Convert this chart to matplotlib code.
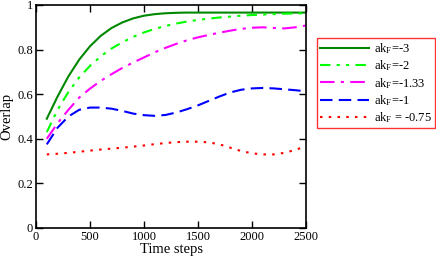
import matplotlib
matplotlib.use("Agg")
import matplotlib.pyplot as plt
from matplotlib.ticker import FuncFormatter

plt.rcParams['font.family'] = ['Liberation Serif', 'DejaVu Serif']
plt.rcParams['mathtext.fontset'] = 'custom'
plt.rcParams['mathtext.rm'] = 'Liberation Serif'
plt.rcParams['mathtext.it'] = 'Liberation Serif'

# Zeitachse
t = [100, 200, 300, 400, 500, 600, 700, 800, 900, 1000, 1100, 1200, 1300,
     1400, 1500, 1600, 1700, 1800, 1900, 2000, 2100, 2200, 2300, 2400, 2500]

ov_m3 = [0.49, 0.59, 0.68, 0.755, 0.815, 0.862, 0.897, 0.922, 0.940, 0.952,
         0.959, 0.963, 0.965, 0.966, 0.966, 0.966, 0.966, 0.966, 0.966, 0.966,
         0.966, 0.966, 0.966, 0.966, 0.966]
ov_m2 = [0.43, 0.53, 0.61, 0.675, 0.727, 0.77, 0.805, 0.833, 0.857, 0.877,
         0.893, 0.906, 0.917, 0.926, 0.933, 0.939, 0.944, 0.948, 0.952, 0.955,
         0.957, 0.959, 0.961, 0.962, 0.963]
ov_m133 = [0.40, 0.47, 0.53, 0.585, 0.625, 0.66, 0.69, 0.718, 0.742, 0.765,
           0.788, 0.808, 0.826, 0.842, 0.855, 0.866, 0.876, 0.885, 0.893, 0.898,
           0.900, 0.897, 0.895, 0.900, 0.908]
ov_m1 = [0.375, 0.45, 0.50, 0.53, 0.54, 0.54, 0.535, 0.525, 0.513, 0.506,
         0.503, 0.507, 0.518, 0.533, 0.55, 0.57, 0.59, 0.608, 0.62, 0.626,
         0.628, 0.626, 0.622, 0.618, 0.613]
ov_m075 = [0.330, 0.333, 0.337, 0.342, 0.347, 0.352, 0.356, 0.360, 0.365, 0.370,
           0.376, 0.381, 0.385, 0.387, 0.387, 0.384, 0.375, 0.360, 0.345, 0.335,
           0.330, 0.330, 0.337, 0.350, 0.367]

labels = [r'ak$_\mathrm{F}$=-3', r'ak$_\mathrm{F}$=-2', r'ak$_\mathrm{F}$=-1.33',
          r'ak$_\mathrm{F}$=-1', r'ak$_\mathrm{F}$ = -0.75']

fig = plt.figure(figsize=(4.36, 2.57), dpi=100)
ax = fig.add_axes([36 / 436, 29 / 257, 270 / 436, 223 / 257])

ax.plot(t, ov_m3, color='#008800', lw=1.5, ls='-', label=labels[0])
ax.plot(t, ov_m2, color='#00ff00', lw=1.5, ls=(0, (5, 3, 1.5, 3, 1.5, 3)), label=labels[1])
ax.plot(t, ov_m133, color='#ff00ff', lw=1.5, ls=(0, (7, 3, 1.5, 3)), label=labels[2])
ax.plot(t, ov_m1, color='#0000ff', lw=1.5, ls=(0, (6, 3)), label=labels[3])
ax.plot(t, ov_m075, color='#ff0000', lw=1.5, ls=(0, (1.2, 3)), label=labels[4])

ax.set_xlim(0, 2500)
ax.set_ylim(0, 1)
ax.set_xticks([0, 500, 1000, 1500, 2000, 2500])
ax.set_yticks([0, 0.2, 0.4, 0.6, 0.8, 1.0])
ax.yaxis.set_major_formatter(FuncFormatter(lambda v, p: ('%g' % round(v, 2))))
ax.tick_params(direction='in', top=True, right=True, length=5, width=1, labelsize=9, pad=2)
for s in ax.spines.values():
    s.set_linewidth(1.2)

ax.set_xlabel('Time steps', fontsize=10.5, labelpad=0)
ax.set_ylabel('Overlap', fontsize=10.5, labelpad=3)

leg = fig.legend(loc='upper left', bbox_to_anchor=(317 / 436, 1 - 38 / 257),
                 fontsize=9, frameon=True, fancybox=False, handlelength=3.9,
                 borderpad=0.25, labelspacing=0.2, handletextpad=0.4, borderaxespad=0)
leg.get_frame().set_edgecolor('#ff0000')
leg.get_frame().set_linewidth(1.0)

fig.savefig('out.png', dpi=100)
